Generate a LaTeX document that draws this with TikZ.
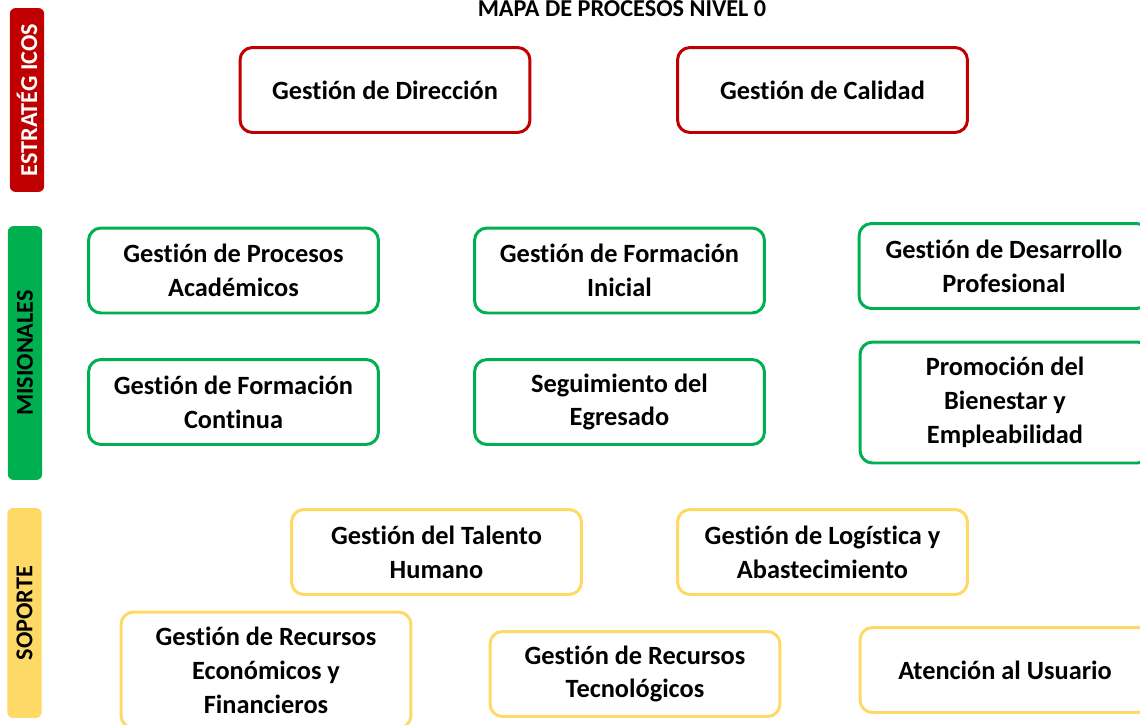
\documentclass[tikz,border=0pt]{standalone}
\usepackage{fontspec}
\setmainfont{Carlito}[Ligatures=NoCommon]
\definecolor{procred}{HTML}{C00000}
\definecolor{procgreen}{HTML}{00B050}
\definecolor{procyellow}{HTML}{FFD966}

\begin{document}
\begin{tikzpicture}[x=0.02cm, y=-0.02cm,
    proc/.style={draw, line width=1.7pt, rounded corners=0.25cm, fill=white, minimum width=5.8cm, minimum height=1.7cm, align=center, font=\fontsize{15}{19.3}\selectfont\bfseries},
    bar/.style={rounded corners=0.12cm, rotate=90, minimum height=0.69cm, inner sep=0pt, font=\fontsize{13.8}{16}\selectfont\bfseries}]

    \clip (0, 0) rectangle (1140, 724);

    \node[anchor=base, font=\fontsize{13.8}{16}\selectfont\bfseries] (title) at (622, 16) {MAPA DE PROCESOS NIVEL 0};

    \node[bar, fill=procred, text=white, minimum width=3.68cm] (estr) at (27, 100) {ESTRATÉG ICOS};
    \node[bar, fill=procgreen, minimum width=5.08cm] (mis) at (25, 353) {MISIONALES};
    \node[bar, fill=procyellow, minimum width=4.2cm] (sop) at (24.5, 613) {SOPORTE};

    \foreach \n/\x/\y/\t in {dir/385/90/{Gestión de Dirección}, cal/822.5/90/{Gestión de Calidad}}
        \node[proc, draw=procred] (\n) at (\x, \y) {\t};

    \foreach \n/\x/\y/\t in {acad/233.5/270.5/{Gestión de Procesos\\Académicos}, inic/619.5/270.5/{Gestión de Formación\\Inicial}, desa/1004/266/{Gestión de Desarrollo\\Profesional}, cont/233.5/402/{Gestión de Formación\\Continua}, egre/619.5/402/{Seguimiento del\\Egresado}}
        \node[proc, draw=procgreen] (\n) at (\x, \y) {\t};
    \node[proc, draw=procgreen, minimum height=2.42cm] (prom) at (1005, 402.5) {Promoción del\\Bienestar y\\Empleabilidad};

    \foreach \n/\x/\y/\t in {tal/436.5/552/{Gestión del Talento\\Humano}, log/822.5/552/{Gestión de Logística y\\Abastecimiento}, tec/635/674/{Gestión de Recursos\\Tecnológicos}, usu/1005/670/{Atención al Usuario}}
        \node[proc, draw=procyellow] (\n) at (\x, \y) {\t};
    \node[proc, draw=procyellow, minimum height=2.32cm] (eco) at (266, 670) {Gestión de Recursos\\Económicos y\\Financieros};

\end{tikzpicture}
\end{document}
